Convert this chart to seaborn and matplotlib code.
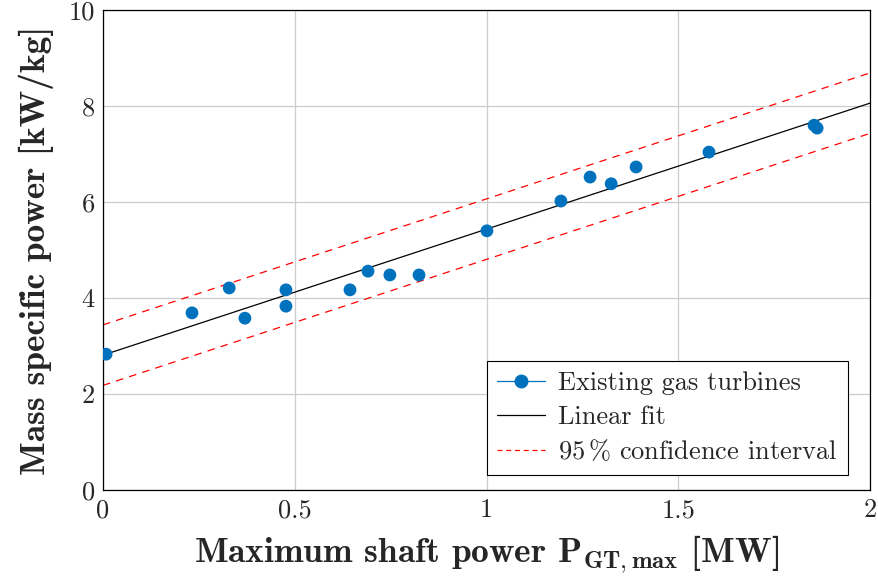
import numpy as np
import pandas as pd
import seaborn as sns
import matplotlib
matplotlib.use("Agg")
import matplotlib.pyplot as plt
from matplotlib.lines import Line2D

# ---- data ----
shaft_power_mw = [0.008, 0.232, 0.329, 0.370, 0.477, 0.477, 0.644, 0.691, 0.748,
                  0.824, 1.001, 1.194, 1.270, 1.325, 1.390, 1.580, 1.854, 1.862]
specific_power = [2.83, 3.69, 4.21, 3.58, 4.17, 3.83, 4.17, 4.56, 4.48,
                  4.48, 5.40, 6.02, 6.52, 6.38, 6.73, 7.04, 7.60, 7.54]
fit_intercept = 2.81
fit_slope = 2.625
ci_halfwidth = 0.63
x_ticks = [0, 0.5, 1, 1.5, 2]
x_tick_labels = ["0", "0.5", "1", "1.5", "2"]
y_ticks = [0, 2, 4, 6, 8, 10]

sns.set_theme(style="whitegrid")
plt.rcParams["font.family"] = ["cmr10"]
plt.rcParams["mathtext.fontset"] = "cm"
plt.rcParams["axes.formatter.use_mathtext"] = True

df = pd.DataFrame({"x": shaft_power_mw, "y": specific_power})
xf = np.array([0.0, 2.0])
fit_df = pd.DataFrame({"x": xf, "fit": fit_intercept + fit_slope * xf})
fit_df["upper"] = fit_df["fit"] + ci_halfwidth
fit_df["lower"] = fit_df["fit"] - ci_halfwidth

fig = plt.figure(figsize=(8.79, 5.79), dpi=100)
ax = fig.add_axes([0.1172, 0.1537, 0.8726, 0.829])

blue = "#0072BD"
sns.lineplot(data=fit_df, x="x", y="upper", ax=ax, color="red", lw=0.9, zorder=2)
sns.lineplot(data=fit_df, x="x", y="lower", ax=ax, color="red", lw=0.9, zorder=2)
ax.lines[0].set_dashes((6, 5))
ax.lines[1].set_dashes((6, 5))
sns.lineplot(data=fit_df, x="x", y="fit", ax=ax, color="black", lw=0.9, zorder=3)
sns.scatterplot(data=df, x="x", y="y", ax=ax, color=blue, s=85,
                edgecolor="none", zorder=4)

ax.set_xlim(0, 2)
ax.set_ylim(0, 10)
ax.set_xticks(x_ticks)
ax.set_xticklabels(x_tick_labels)
ax.set_yticks(y_ticks)
ax.set_yticklabels([str(v) for v in y_ticks])
ax.tick_params(axis="both", labelsize=19, direction="in", length=4,
               color="#555555", width=0.8, pad=6)
ax.grid(True, color="#cccccc", lw=0.9)
for s in ax.spines.values():
    s.set_visible(True)
    s.set_color("black")
    s.set_linewidth(0.9)

ax.set_xlabel(r"Maximum shaft power $\mathbf{P}_{\mathbf{GT,max}}$ [MW]",
              family="cmb10", fontsize=25.5, labelpad=8)
ax.set_ylabel("Mass specific power [kW/kg]", family="cmb10", fontsize=25.5,
              labelpad=10)

handles = [
    Line2D([], [], color=blue, lw=0.9, marker="o", markersize=9),
    Line2D([], [], color="black", lw=0.9),
    Line2D([], [], color="red", lw=0.9, linestyle=(0, (4, 3))),
]
labels = ["Existing gas turbines", "Linear fit", r"95$\,$% confidence interval"]
leg = ax.legend(handles, labels, loc="lower right",
                bbox_to_anchor=(0.9713, 0.031), borderaxespad=0,
                prop={"family": "cmr10", "size": 19},
                frameon=True, fancybox=False, edgecolor="black",
                framealpha=1, handlelength=1.8,
                handletextpad=0.5, labelspacing=0.38, borderpad=0.4)
leg.get_frame().set_linewidth(0.8)

fig.savefig("out.png", dpi=100)
